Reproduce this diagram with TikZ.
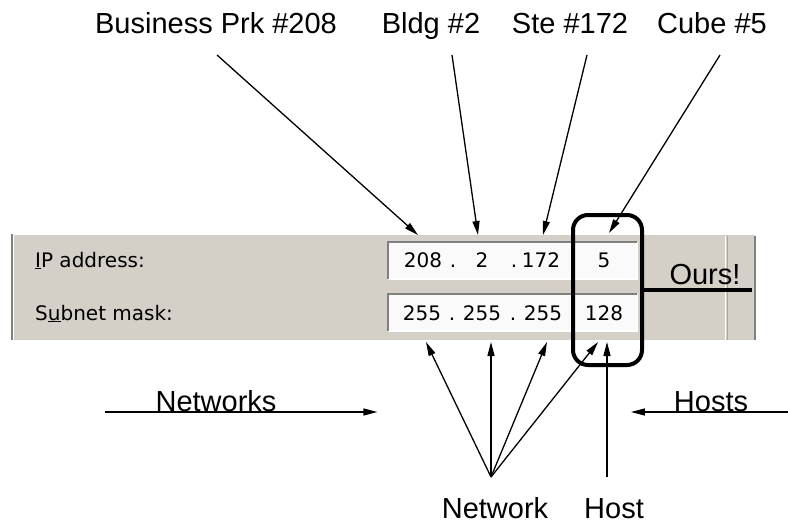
\documentclass[tikz,border=0pt]{standalone}
\usepackage{fontspec}
\setmainfont{Liberation Sans}
\newfontfamily\dlgfont{DejaVu Sans}
\usetikzlibrary{arrows.meta}
\definecolor{dlggray}{HTML}{D4D0C8}
\definecolor{dlgshade}{HTML}{808080}
\definecolor{fieldbg}{HTML}{FAFAFA}
\tikzset{
	callout/.style={font=\fontsize{29}{29}\selectfont, inner sep=0pt, outer sep=0pt, text height=21pt, text depth=6pt},
	dlgtext/.style={font=\dlgfont\fontsize{20}{20}\selectfont, inner sep=0pt},
	pointer/.style={line width=1.3pt, -{Triangle[length=14pt,width=7pt]}},
}
\begin{document}
\begin{tikzpicture}[x=1pt,y=-1pt]
		\useasboundingbox (0,0) rectangle (788,525);
		%dialog panel
		\fill[dlggray] (14,235) rectangle (755,340);
		\draw[dlgshade,line width=2pt] (12,234) -- (12,340);
		\draw[dlgshade,line width=2pt] (755,236) -- (755,340);
		\draw[white,line width=1pt] (725,236) -- (725,340);
		\draw[dlgshade!70,line width=1pt] (727,236) -- (727,340);
		\node[dlgtext,anchor=base west] (iplabel) at (35,267) {\underline{I}P address:};
		\node[dlgtext,anchor=base west] (masklabel) at (35,320) {S\underline{u}bnet mask:};
		%entry fields
		\foreach \y in {242,294} {
			\fill[fieldbg] (388,\y) rectangle (637,\y+37);
			\draw[white,line width=2pt] (388,\y+37) -- (637,\y+37) -- (637,\y);
			\draw[dlgshade,line width=2pt] (388,\y+37) -- (388,\y) -- (637,\y);
		}
		%address
		\node[dlgtext,anchor=base] (ipA) at (423,267) {208};
		\node[dlgtext,anchor=base] (ipdotA) at (453,267) {.};
		\node[dlgtext,anchor=base] (ipB) at (482,267) {2};
		\node[dlgtext,anchor=base] (ipdotB) at (514,267) {.};
		\node[dlgtext,anchor=base] (ipC) at (541,267) {172};
		\node[dlgtext,anchor=base] (ipD) at (604,267) {5};
		%mask
		\node[dlgtext,anchor=base] (mkA) at (422,320) {255};
		\node[dlgtext,anchor=base] (mkdotA) at (452,320) {.};
		\node[dlgtext,anchor=base] (mkB) at (482,320) {255};
		\node[dlgtext,anchor=base] (mkdotB) at (513,320) {.};
		\node[dlgtext,anchor=base] (mkC) at (543,320) {255};
		\node[dlgtext,anchor=base] (mkD) at (604,320) {128};
		%host part
		\node[draw,line width=4pt,rounded corners=15pt,inner sep=0pt,outer sep=0pt,minimum width=69pt,minimum height=150pt] (oursbox) at (607.5,290) {};
		\coordinate (oursend) at (752,290);
		\draw[line width=4pt] (oursbox.east) -- (oursend);
		\node[callout,anchor=base] (ours) at (705,284) {Ours!};
		%top labels
		\node[callout,anchor=base] (park) at (216,33) {Business Prk \#208};
		\node[callout,anchor=base] (bldg) at (431,33) {Bldg \#2};
		\node[callout,anchor=base] (ste) at (570,33) {Ste \#172};
		\node[callout,anchor=base] (cube) at (712,33) {Cube \#5};
		\coordinate (parktip) at (418,235);
		\coordinate (bldgtip) at (478,235);
		\coordinate (stetip) at (543,235);
		\coordinate (cubetip) at (609,233);
		\draw[pointer] ([xshift=1pt,yshift=-16pt]park.south) -- (parktip);
		\draw[pointer] ([xshift=21pt,yshift=-16pt]bldg.south) -- (bldgtip);
		\draw[pointer] ([xshift=17pt,yshift=-16pt]ste.south) -- (stetip);
		\draw[pointer] ([xshift=8pt,yshift=-16pt]cube.south) -- (cubetip);
		%networks and hosts
		\node[callout,anchor=base] (nets) at (216,411) {Networks};
		\node[callout,anchor=base] (hosts) at (711,411) {Hosts};
		\draw[pointer] ([xshift=-51pt,yshift=-1pt]nets.base west) -- ([xshift=101pt,yshift=-1pt]nets.base east);
		\draw[pointer] ([xshift=40pt,yshift=-1pt]hosts.base east) -- ([xshift=-43pt,yshift=-1pt]hosts.base west);
		%bottom labels
		\node[callout,anchor=base] (net) at (495,518) {Network};
		\node[callout,anchor=base] (host) at (614,518) {Host};
		\coordinate (netA) at (426,342);
		\coordinate (netB) at (491,342);
		\coordinate (netC) at (547,342);
		\coordinate (netD) at (598,342);
		\coordinate (hosttip) at (607,342);
		\foreach \t in {netA,netB,netC,netD}
			\draw[pointer] ([xshift=-4pt,yshift=20pt]net.north) -- (\t);
		\draw[pointer] ([xshift=-7pt,yshift=20pt]host.north) -- (hosttip);
	\end{tikzpicture}
\end{document}
